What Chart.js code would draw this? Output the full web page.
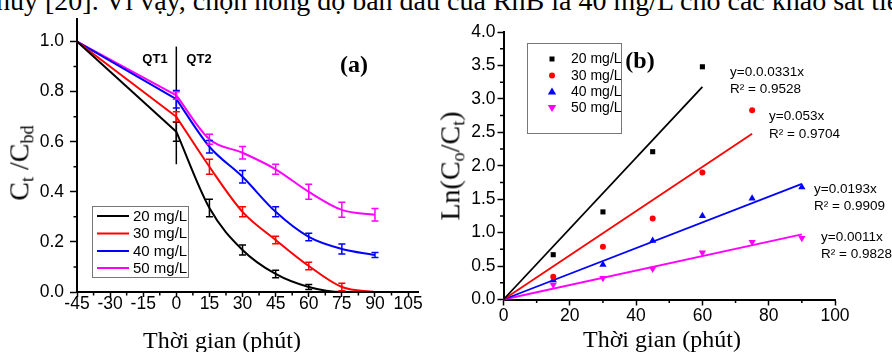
<!DOCTYPE html>
<html>
<head>
<meta charset="utf-8">
<script src="https://cdn.jsdelivr.net/npm/chart.js@4.4.1/dist/chart.umd.min.js"></script>
<style>
  body { margin: 0; width: 892px; height: 352px; overflow: hidden; background: #fff; position: relative; }
  #topline { position: absolute; left: -4px; top: -13px; font: 28px 'Liberation Serif', serif; line-height: 28px; white-space: nowrap; color: #000; }
  #chartA { position: absolute; left: 0; top: 0; }
  #chartB { position: absolute; left: 430px; top: 0; }
  .yt { position: absolute; transform: translate(-50%, -50%) rotate(-90deg); font: 28px 'Liberation Serif', serif; line-height: 1; white-space: nowrap; color: #000; }
  .xt { position: absolute; transform: translateX(-50%); font: 24px 'Liberation Serif', serif; line-height: 24px; white-space: nowrap; color: #000; }
  sub { font-size: 65%; vertical-align: -0.28em; }
</style>
</head>
<body>
<div id="topline">hủy [20]. Vì vậy, chọn nồng độ ban đầu của RhB là 40 mg/L cho các khảo sát tiếp</div>
<canvas id="chartA" width="430" height="352"></canvas>
<canvas id="chartB" width="462" height="352"></canvas>
<div class="yt" style="left:21px;top:163px">C<sub>t</sub> /C<sub>bd</sub></div>
<div class="yt" style="left:452px;top:166px">Ln(C<sub>o</sub>/C<sub>t</sub>)</div>
<div class="xt" style="left:222px;top:328px">Thời gian (phút)</div>
<div class="xt" style="left:662px;top:327px">Thời gian (phút)</div>
<script>
// --- panel (a): C_t/C_bd over time, with error bars
const seriesLabels = ['20 mg/L', '30 mg/L', '40 mg/L', '50 mg/L'];
const seriesColors = ['#000000', '#ff0000', '#0000ff', '#ff00ff'];

const timeA = [-45, 0, 15, 30, 45, 60, 75, 90];
const c20 = [1.0, 0.64, 0.335, 0.168, 0.072, 0.02, 0.0, 0.0];
const c30 = [1.0, 0.70, 0.50, 0.32, 0.208, 0.104, 0.02, 0.0];
const c40 = [1.0, 0.77, 0.58, 0.46, 0.32, 0.22, 0.172, 0.148];
const c50 = [1.0, 0.785, 0.61, 0.556, 0.49, 0.40, 0.328, 0.308];
const err20 = [0, 0.038, 0.035, 0.02, 0.015, 0.01, 0, 0];
const err30 = [0, 0.02, 0.03, 0.02, 0.015, 0.015, 0.015, 0];
const err40 = [0, 0.035, 0.025, 0.025, 0.02, 0.015, 0.02, 0.01];
const err50 = [0, 0.015, 0.02, 0.025, 0.02, 0.03, 0.03, 0.025];
const qtLineY = [0.51, 0.98];   // vertical QT1 | QT2 divider at t = 0

const xTicksA = [-45, -30, -15, 0, 15, 30, 45, 60, 75, 90, 105];
const yTicksA = [0, 0.2, 0.4, 0.6, 0.8, 1.0];

// --- panel (b): ln(Co/Ct) over time with linear fits
const timeB = [15, 30, 45, 60, 75, 90];
const ln20 = [0.67, 1.31, 2.21, 3.48];
const ln30 = [0.34, 0.79, 1.21, 1.90, 2.83];
const ln40 = [0.29, 0.52, 0.88, 1.25, 1.51, 1.68];
const ln50 = [0.22, 0.32, 0.46, 0.70, 0.86, 0.92];
const fitEndX = [60, 75, 90, 90];
const fitEndY = [3.18, 2.48, 1.73, 0.975];
const fitText = [
  ['y=0.0.0331x', 'R² = 0.9528'],
  ['y=0.053x', 'R² = 0.9704'],
  ['y=0.0193x', 'R² = 0.9909'],
  ['y=0.0011x', 'R² = 0.9828']
];
const xTicksB = [0, 20, 40, 60, 80, 100];
const yTicksB = [0, 0.5, 1.0, 1.5, 2.0, 2.5, 3.0, 3.5, 4.0];

const pts = (xs, ys) => ys.map((v, i) => ({ x: xs[i], y: v }));
const mids = t => t.slice(1).map((v, i) => (v + t[i]) / 2);
const sans = "'Liberation Sans', Arial, sans-serif";
const tickFont = { family: sans, size: 17.5, lineHeight: 1 };

// error bars drawn through the chart scales
const errorBars = {
  id: 'errorBars',
  afterDatasetsDraw(chart) {
    const { ctx, scales: { x, y } } = chart;
    ctx.save();
    chart.data.datasets.forEach(ds => {
      if (!ds.errors) return;
      ctx.strokeStyle = ds.borderColor;
      ctx.lineWidth = 1.5;
      ds.data.forEach((p, i) => {
        const e = ds.errors[i];
        if (!e) return;
        const px = x.getPixelForValue(p.x);
        const t = y.getPixelForValue(p.y + e), b = y.getPixelForValue(p.y - e);
        ctx.beginPath();
        ctx.moveTo(px, t); ctx.lineTo(px, b);
        ctx.moveTo(px - 3.5, t); ctx.lineTo(px + 3.5, t);
        ctx.moveTo(px - 3.5, b); ctx.lineTo(px + 3.5, b);
        ctx.stroke();
      });
    });
    ctx.restore();
  }
};

// minor ticks, free text, boxed legend
const decor = {
  id: 'decor',
  afterDraw(chart, args, o) {
    const { ctx, scales: { x, y } } = chart;
    ctx.save();
    ctx.strokeStyle = '#000';
    ctx.lineWidth = 1.5;
    ctx.beginPath();
    o.minorX.forEach(v => { const p = x.getPixelForValue(v); ctx.moveTo(p, y.bottom); ctx.lineTo(p, y.bottom + 3.5); });
    o.minorY.forEach(v => { const p = y.getPixelForValue(v); ctx.moveTo(x.left, p); ctx.lineTo(x.left - 3.5, p); });
    ctx.stroke();

    o.texts.forEach(t => {
      ctx.font = t.font;
      ctx.fillStyle = t.color || '#000';
      ctx.textAlign = t.align || 'left';
      ctx.textBaseline = 'middle';
      ctx.fillText(t.text, t.x, t.y);
    });

    const L = o.legend;
    ctx.strokeStyle = '#777';
    ctx.lineWidth = 1;
    ctx.strokeRect(L.box[0] + 0.5, L.box[1] + 0.5, L.box[2], L.box[3]);
    ctx.font = L.font;
    ctx.textAlign = 'left';
    ctx.textBaseline = 'middle';
    L.items.forEach((it, i) => {
      const ry = L.rows[i];
      ctx.fillStyle = it.color;
      ctx.strokeStyle = it.color;
      if (it.kind === 'line') {
        ctx.lineWidth = 2;
        ctx.beginPath(); ctx.moveTo(L.markX, ry); ctx.lineTo(L.markX2, ry); ctx.stroke();
      } else {
        const mx = L.markX;
        ctx.beginPath();
        if (it.kind === 'rect') ctx.rect(mx - 2.5, ry - 2.5, 5, 5);
        else if (it.kind === 'circle') ctx.arc(mx, ry, 3, 0, Math.PI * 2);
        else if (it.kind === 'up') { ctx.moveTo(mx, ry - 4); ctx.lineTo(mx + 4.2, ry + 3); ctx.lineTo(mx - 4.2, ry + 3); ctx.closePath(); }
        else { ctx.moveTo(mx, ry + 4); ctx.lineTo(mx + 4.2, ry - 3); ctx.lineTo(mx - 4.2, ry - 3); ctx.closePath(); }
        ctx.fill();
      }
      ctx.fillStyle = '#000';
      ctx.fillText(it.label, L.textX, ry + 0.5);
    });
    ctx.restore();
  }
};

// offset = distance from axis line to the label centre
const axisCommon = (ticks, fmt, tl, offset, fitSize, isX) => ({
  type: 'linear',
  afterBuildTicks: s => { s.ticks = ticks.map(v => ({ value: v })); },
  afterFit: s => { if (isX) s.height = fitSize; else s.width = fitSize; },
  border: { display: true, color: '#000', width: 2 },
  grid: { display: true, drawOnChartArea: false, drawTicks: true, tickLength: tl, tickWidth: 1.5, tickColor: '#000' },
  ticks: {
    color: '#000', autoSkip: false, maxRotation: 0,
    padding: isX ? offset - tl - tickFont.size / 2 : offset - tl,
    font: tickFont,
    callback: fmt
  }
});

const lineA = [c20, c30, c40, c50];
const errA = [err20, err30, err40, err50];

// each series: straight run before t = 0, smooth curve after it
const dsA = [];
lineA.forEach((vals, i) => {
  dsA.push({
    label: seriesLabels[i] + ' (QT1)',
    data: pts(timeA.slice(0, 2), vals.slice(0, 2)),
    borderColor: seriesColors[i],
    borderWidth: 2,
    pointRadius: 0,
    clip: false
  });
  dsA.push({
    label: seriesLabels[i],
    data: pts(timeA.slice(1), vals.slice(1)),
    errors: errA[i].slice(1),
    borderColor: seriesColors[i],
    backgroundColor: seriesColors[i],
    borderWidth: 2,
    pointRadius: 0,
    cubicInterpolationMode: 'monotone',
    clip: false
  });
});
dsA.push({
  label: 'QT',
  data: [{ x: 0, y: qtLineY[0] }, { x: 0, y: qtLineY[1] }],
  borderColor: '#000',
  borderWidth: 1.5,
  pointRadius: 0,
  clip: false
});

new Chart(document.getElementById('chartA'), {
  type: 'line',
  data: { datasets: dsA },
  options: {
    responsive: false,
    animation: false,
    layout: { padding: { top: 19, right: 12, left: 0, bottom: 0 } },
    plugins: {
      legend: { display: false },
      tooltip: { enabled: false },
      decor: {
        minorX: mids(xTicksA),
        minorY: mids(yTicksA),
        texts: [
          { text: 'QT1', x: 155, y: 59, align: 'center', font: `bold 13px ${sans}` },
          { text: 'QT2', x: 199, y: 59, align: 'center', font: `bold 13px ${sans}` },
          { text: '(a)', x: 354, y: 66, align: 'center', font: "bold 24px 'Liberation Serif', serif" }
        ],
        legend: {
          box: [92, 206, 96, 71],
          rows: [216, 233.5, 251, 268],
          markX: 97, markX2: 129, textX: 133,
          font: `15px ${sans}`,
          items: seriesLabels.map((l, i) => ({ label: l, color: seriesColors[i], kind: 'line' }))
        }
      }
    },
    scales: {
      x: Object.assign(axisCommon(xTicksA, v => String(v), 5, 12.5, 60, true), { min: -45, max: 109.5 }),
      y: Object.assign(axisCommon(yTicksA, v => v.toFixed(1), 7, 13, 77, false), { min: 0, max: 1.09 })
    }
  },
  plugins: [errorBars, decor]
});

const lnB = [ln20, ln30, ln40, ln50];
const shapes = ['rect', 'circle', 'triangle', 'triangle'];
const shapeRot = [0, 0, 0, 180];
const shapeSize = [3.6, 3, 4.2, 4.2];
const legendKinds = ['rect', 'circle', 'up', 'down'];

new Chart(document.getElementById('chartB'), {
  type: 'scatter',
  data: {
    datasets: lnB.map((vals, i) => ({
      label: seriesLabels[i],
      data: pts(timeB, vals),
      pointStyle: shapes[i],
      rotation: shapeRot[i],
      pointRadius: shapeSize[i],
      borderWidth: 0,
      backgroundColor: seriesColors[i],
      borderColor: seriesColors[i],
      clip: false
    })).concat(fitEndX.map((xe, i) => ({
      label: 'fit ' + seriesLabels[i],
      type: 'line',
      data: [{ x: 0, y: 0 }, { x: xe, y: fitEndY[i] }],
      borderColor: seriesColors[i],
      borderWidth: 1.8,
      pointRadius: 0,
      clip: false
    })))
  },
  options: {
    responsive: false,
    animation: false,
    layout: { padding: { top: 32, right: 57, left: 0, bottom: 0 } },
    plugins: {
      legend: { display: false },
      tooltip: { enabled: false },
      decor: {
        minorX: mids(xTicksB),
        minorY: mids(yTicksB),
        texts: [
          { text: '(b)', x: 210, y: 62, align: 'center', font: "bold 24px 'Liberation Serif', serif" },
          { text: fitText[0][0], x: 300, y: 72, font: `13.5px ${sans}` },
          { text: fitText[0][1], x: 300, y: 89, font: `13.5px ${sans}` },
          { text: fitText[1][0], x: 339, y: 116, font: `13.5px ${sans}` },
          { text: fitText[1][1], x: 339, y: 134, font: `13.5px ${sans}` },
          { text: fitText[2][0], x: 384, y: 189, font: `13.5px ${sans}` },
          { text: fitText[2][1], x: 384, y: 206, font: `13.5px ${sans}` },
          { text: fitText[3][0], x: 391, y: 237, font: `13.5px ${sans}` },
          { text: fitText[3][1], x: 391, y: 254, font: `13.5px ${sans}` }
        ],
        legend: {
          box: [97, 43, 94, 90],
          rows: [59, 75.5, 91.5, 108],
          markX: 122, markX2: 122, textX: 141,
          font: `14px ${sans}`,
          items: seriesLabels.map((l, i) => ({ label: l, color: seriesColors[i], kind: legendKinds[i] }))
        }
      }
    },
    scales: {
      x: Object.assign(axisCommon(xTicksB, v => String(v), 6, 16.5, 52.5, true), { min: 0, max: 100 }),
      y: Object.assign(axisCommon(yTicksB, v => v.toFixed(1), 6, 8, 73.5, false), { min: 0, max: 4 })
    }
  },
  plugins: [decor]
});
</script>
</body>
</html>
